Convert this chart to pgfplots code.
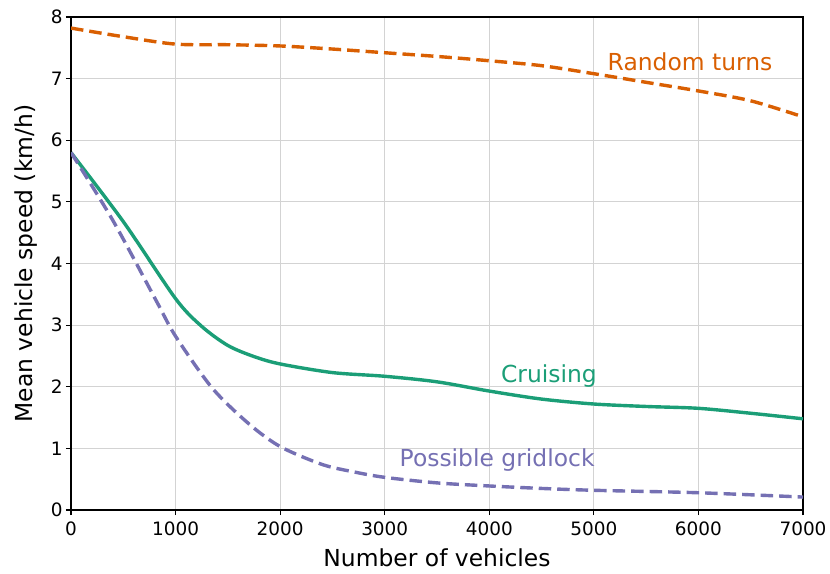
\documentclass[border=0pt]{standalone}
\usepackage{pgfplots}
\pgfplotsset{compat=1.18}
\usepackage{fontspec}
\setmainfont{DejaVu Sans}
\definecolor{dgreen}{HTML}{1B9E77}
\definecolor{dorange}{HTML}{D95F02}
\definecolor{dpurple}{HTML}{7570B3}
\definecolor{gridc}{HTML}{D3D3D3}
\begin{document}
\begin{tikzpicture}
\begin{axis}[
  name=ax,
  width=732bp, height=493bp, scale only axis,
  xmin=0, xmax=7000, ymin=0, ymax=8,
  xtick={0,1000,...,7000}, ytick={0,1,...,8},
  /pgf/number format/assume math mode=true,
  /pgf/number format/1000 sep={},
  tick label style={font=\fontsize{18.5}{22}\selectfont},
  xticklabel style={yshift=-3bp},
  label style={font=\fontsize{23.5}{28}\selectfont},
  xlabel={Number of vehicles}, ylabel={Mean vehicle speed (km/h)},
  xlabel style={yshift=-6bp}, ylabel style={yshift=7bp},
  grid=major, major grid style={gridc, line width=0.8bp},
  axis line style={black, line width=1.3bp},
  tick style={black, line width=1.1bp},
  tick align=outside, major tick length=5bp,
  xtick pos=bottom, ytick pos=left,
]
\addplot[dorange, line width=3.4bp, dash pattern=on 12.5bp off 6bp, smooth] coordinates {
(0,7.82) (500,7.68) (1000,7.56) (1500,7.55) (2000,7.53) (2500,7.48) (3000,7.42) (3500,7.36) (4000,7.29) (4500,7.21) (5000,7.08) (5500,6.94) (6000,6.80) (6500,6.64) (7000,6.38)};
\addplot[dgreen, line width=3.4bp, smooth] coordinates {
(0,5.80) (500,4.68) (1000,3.43) (1250,2.98) (1500,2.67) (1750,2.49) (2000,2.37) (2500,2.23) (3000,2.17) (3500,2.08) (4000,1.93) (4500,1.80) (5000,1.72) (5500,1.68) (6000,1.65) (6500,1.57) (7000,1.48)};
\addplot[dpurple, line width=3.4bp, dash pattern=on 12.5bp off 6bp, smooth] coordinates {
(0,5.80) (400,4.70) (820,3.38) (1000,2.82) (1350,1.98) (1700,1.40) (2000,1.03) (2400,0.74) (2700,0.62) (3000,0.53) (3500,0.44) (4000,0.39) (4500,0.35) (5000,0.32) (6000,0.28) (7000,0.21)};
\node[dorange, font=\fontsize{23.5}{28}\selectfont] at (axis cs:5920,7.27) {Random turns};
\node[dgreen, font=\fontsize{23.5}{28}\selectfont] at (axis cs:4570,2.18) {Cruising};
\node[dpurple, font=\fontsize{23.5}{28}\selectfont] at (axis cs:4075,0.81) {Possible gridlock};
\end{axis}
\pgfresetboundingbox
\path ([xshift=-71bp,yshift=-63bp]ax.south west) rectangle ([xshift=27bp,yshift=17bp]ax.north east);
\end{tikzpicture}
\end{document}
